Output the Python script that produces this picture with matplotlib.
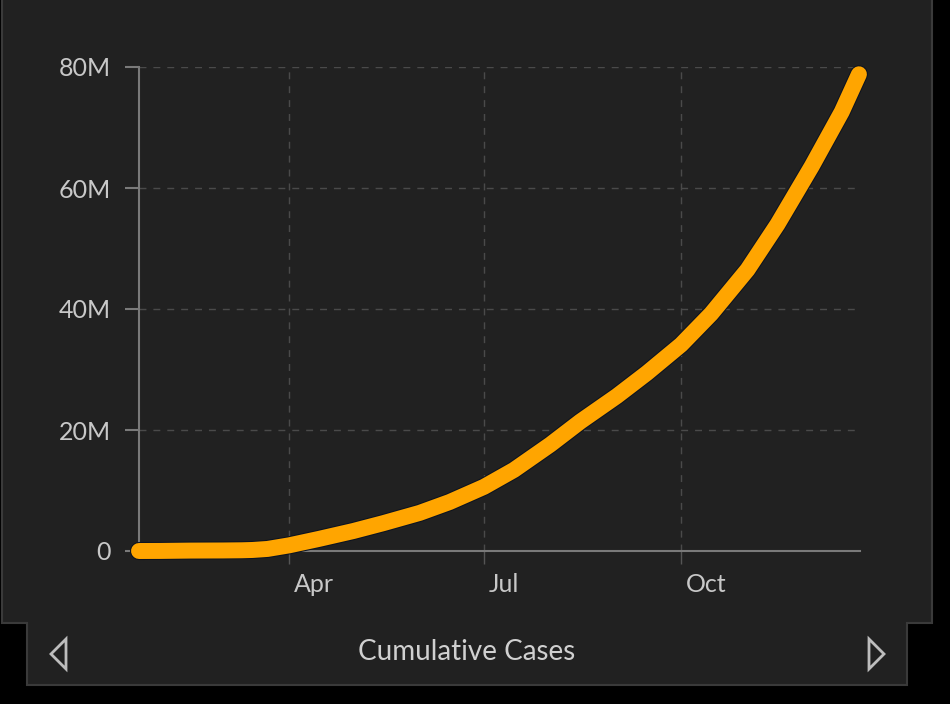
import matplotlib
matplotlib.use("Agg")
import matplotlib.pyplot as plt
import matplotlib.patheffects as pe
from matplotlib.patches import Polygon
from matplotlib.ticker import FixedLocator
import matplotlib.transforms as mtrans
import pandas as pd

# ---- data (cumulative cases, millions) ----
dates = ["2020-01-22", "2020-02-01", "2020-02-15", "2020-03-01", "2020-03-10",
         "2020-03-15", "2020-03-22", "2020-04-01", "2020-04-15", "2020-05-01",
         "2020-05-15", "2020-06-01", "2020-06-15", "2020-07-01", "2020-07-15",
         "2020-08-01", "2020-08-15", "2020-09-01", "2020-09-15", "2020-10-01",
         "2020-10-15", "2020-11-01", "2020-11-15", "2020-12-01", "2020-12-15",
         "2020-12-23"]
cases_m = [0.0006, 0.012, 0.069, 0.088, 0.12,
           0.17, 0.34, 0.93, 2.0, 3.3,
           4.6, 6.3, 8.1, 10.6, 13.4,
           17.6, 21.4, 25.6, 29.4, 34.1,
           39.2, 46.5, 54.0, 63.6, 72.6,
           78.8]
y_ticks_m = [0, 20, 40, 60, 80]
y_tick_labels = ["0", "20M", "40M", "60M", "80M"]
x_tick_dates = ["2020-04-01", "2020-07-01", "2020-10-01"]
x_tick_labels = ["Apr", "Jul", "Oct"]
title = "Cumulative Cases"

W, H = 950, 704
plt.rcParams['font.family'] = ['Lato', 'DejaVu Sans']
fig = plt.figure(figsize=(W / 100, H / 100), dpi=100, facecolor="black")

def px(x, y):
    return (x / W, 1 - y / H)

# panel background
panel = Polygon([px(2, -5), px(932, -5), px(932, 623), px(907, 623),
                 px(907, 685), px(27, 685), px(27, 623), px(2, 623)],
                closed=True, transform=fig.transFigure, facecolor="#212121",
                edgecolor="#3a3a3a", linewidth=1.5, zorder=-10)
fig.patches.append(panel)

ax = fig.add_axes([139 / W, 153 / H, (860 - 139) / W, (551 - 67) / H])
ax.set_zorder(1)
ax.set_facecolor("none")

x = pd.to_datetime(dates)
y = [v * 1e6 for v in cases_m]
ax.plot(x, y, color="#FFA500", linewidth=11.5, solid_capstyle="round",
        solid_joinstyle="round", zorder=5, clip_on=False,
        path_effects=[pe.Stroke(linewidth=13, foreground="#0c1320"), pe.Normal()])

ax.set_xlim(pd.Timestamp("2020-01-22"), pd.Timestamp("2020-12-23 12:00"))
ax.set_ylim(0, 80e6)

ax.yaxis.set_major_locator(FixedLocator([v * 1e6 for v in y_ticks_m]))
ax.set_yticklabels(y_tick_labels)
ax.set_xticks(pd.to_datetime(x_tick_dates))
ax.set_xticklabels(x_tick_labels)

for s in ["top", "right"]:
    ax.spines[s].set_visible(False)
for s in ["left", "bottom"]:
    ax.spines[s].set_color("#7a7a7a")
    ax.spines[s].set_linewidth(1.5)

ax.grid(True, color="#4a4a4a", linestyle=(0, (5, 5)), linewidth=1)
ax.set_axisbelow(True)
ax.tick_params(axis="y", length=10, width=1.5, color="#7a7a7a", pad=10,
               labelsize=18, labelcolor="#c8c8c8")
ax.tick_params(axis="x", length=9, width=1, color="#555555", pad=7,
               labelsize=18, labelcolor="#c8c8c8")
offset = mtrans.ScaledTranslation(5 / 100, 0, fig.dpi_scale_trans)
for lab in ax.get_xticklabels():
    lab.set_horizontalalignment("left")
    lab.set_transform(lab.get_transform() + offset)

fig.text(467 / W, 1 - 652 / H, title, ha="center", va="center",
         fontsize=20, color="#d0d0d0")

# navigation arrows (decorative)
for pts in ([(66, 639), (51, 654), (66, 669)], [(869, 639), (884, 654), (869, 669)]):
    tri = Polygon([px(a, b) for a, b in pts], closed=True, transform=fig.transFigure,
                  facecolor="none", edgecolor="#bdbdbd", linewidth=2, zorder=2)
    fig.patches.append(tri)

fig.savefig("out.png", dpi=100, facecolor="black")
